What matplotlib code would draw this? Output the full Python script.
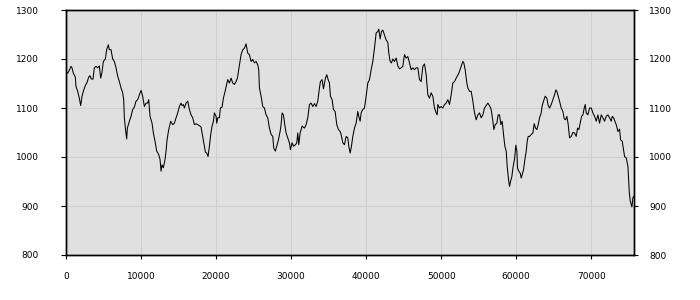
import matplotlib
matplotlib.use("Agg")
import matplotlib.pyplot as plt

x_vals = [
    0, 222, 444, 667, 800, 978, 1244, 1333, 1556, 1778, 1956, 2133, 2311, 2578, 2800, 3022, 3200, 3378, 3600, 3778,
    4000, 4222, 4444, 4622, 4800, 4978, 5244, 5422, 5644, 5778, 6000, 6222, 6444, 6667, 6889, 7111, 7333, 7556, 7689, 7778,
    7911, 8089, 8178, 8444, 8667, 8889, 9111, 9333, 9556, 9778, 10000, 10222, 10444, 10667, 10889, 11022, 11200, 11467, 11644, 11867,
    12089, 12356, 12533, 12667, 12800, 12978, 13200, 13333, 13467, 13689, 13956, 14222, 14444, 14667, 14889, 15111, 15333, 15467, 15644, 15778,
    16000, 16222, 16444, 16667, 16889, 17111, 17333, 17556, 17778, 18000, 18222, 18444, 18578, 18756, 18933, 19111, 19289, 19467, 19644, 19778,
    20000, 20089, 20222, 20444, 20578, 20800, 20978, 21156, 21333, 21556, 21778, 22000, 22222, 22444, 22667, 22844,
    23111, 23333, 23556, 23778, 24000, 24222, 24444, 24667, 24889, 25111, 25333, 25556, 25689, 25778, 26000, 26222, 26444, 26667, 26889, 27111,
    27333, 27556, 27689, 27911, 28089, 28311, 28533, 28667, 28800, 28978, 29156, 29333, 29556, 29778, 29911, 30133, 30311, 30578, 30756, 30889,
    31022, 31200, 31467, 31778, 32000, 32222, 32444, 32667, 32889, 33111, 33333, 33556, 33778, 33911, 34133, 34311, 34578, 34756, 34933, 35111,
    35244, 35467, 35644, 35867, 36089, 36311, 36533, 36667, 36889, 37111, 37333, 37556, 37689, 37867, 38044, 38222, 38444, 38667, 38889, 39022,
    39200, 39333, 39556, 39778, 40000, 40222, 40444, 40667, 40889, 41111, 41333, 41556, 41689, 41867, 42044, 42222, 42444, 42667, 42889, 43022,
    43200, 43378, 43556, 43778, 44000, 44222, 44444, 44667, 44889, 45111, 45333, 45556, 45778, 46000, 46222, 46444, 46667, 46889, 47111, 47333,
    47556, 47778, 48000, 48222, 48444, 48667, 48889, 49111, 49333, 49467, 49556, 49778, 50000, 50222, 50444, 50667, 50889, 51111, 51333, 51556,
    51778, 52000, 52356,
    52444, 52667, 52889, 53022, 53200, 53422, 53556, 53778, 54000, 54222, 54444, 54667, 54889, 55111, 55333, 55556, 55778, 56000, 56222, 56444,
    56667, 56889, 57022, 57200, 57422, 57600, 57778, 57956, 58133, 58311, 58489, 58667, 58800, 58978, 59111, 59244, 59422, 59556, 59778, 59956,
    60089, 60178, 60356, 60533, 60667, 60800, 60978, 61156, 61333, 61467, 61600, 61778, 62000, 62222, 62400, 62578, 62756, 62933, 63111, 63333,
    63467, 63644, 63867, 64089, 64267, 64444, 64667, 64889, 65111, 65289, 65422, 65600, 65778, 66000, 66222, 66400, 66578, 66756, 66933, 67111,
    67333, 67556, 67778, 68000, 68178, 68356, 68533, 68711, 68889, 69067, 69200, 69333, 69556, 69778, 70000, 70222, 70444, 70667, 70889, 71111,
    71333, 71556, 71778, 72000, 72222, 72444, 72667, 72800, 72978, 73156, 73333, 73556, 73778, 73911, 74133, 74267, 74444, 74667, 74889, 75067,
    75200, 75333, 75422, 75556, 75689,
]

y_vals = [
    1175, 1171, 1177, 1185, 1182, 1171, 1163, 1144, 1134, 1120, 1105, 1124, 1134, 1146, 1152, 1163, 1166, 1159, 1159, 1182,
    1185, 1182, 1186, 1161, 1173, 1195, 1200, 1219, 1229, 1219, 1219, 1200, 1195, 1182, 1165, 1154, 1141, 1131, 1117, 1080,
    1059, 1037, 1059, 1073, 1083, 1097, 1102, 1114, 1117, 1127, 1136, 1124, 1103, 1110, 1110, 1117, 1083, 1069, 1049, 1032,
    1012, 1005, 995, 971, 984, 978, 995, 1012, 1035, 1056, 1073, 1066, 1069, 1080, 1090, 1103, 1110, 1105, 1107, 1100,
    1110, 1114, 1097, 1086, 1080, 1066, 1068, 1066, 1064, 1061, 1042, 1022, 1010, 1008, 1001, 1022, 1046, 1063, 1073, 1090,
    1083, 1069, 1080, 1080, 1100, 1102, 1120, 1131, 1143, 1158, 1151, 1161, 1151, 1148, 1154, 1161,
    1188, 1209, 1219, 1222, 1231, 1212, 1209, 1195, 1199, 1192, 1195, 1188, 1178, 1141, 1124, 1103, 1100, 1086, 1080, 1059,
    1046, 1042, 1018, 1012, 1022, 1035, 1052, 1066, 1090, 1086, 1066, 1049, 1039, 1029, 1015, 1029, 1022, 1025, 1029, 1049,
    1025, 1049, 1063, 1059, 1066, 1080, 1107, 1110, 1103, 1109, 1103, 1114, 1141, 1154, 1158, 1139, 1161, 1168, 1158, 1151,
    1124, 1117, 1097, 1093, 1066, 1056, 1052, 1046, 1029, 1025, 1042, 1039, 1022, 1008, 1022, 1042, 1059, 1069, 1093, 1083,
    1073, 1090, 1097, 1100, 1124, 1151, 1158, 1178, 1195, 1222, 1253, 1256, 1261, 1241, 1256, 1259, 1249, 1239, 1234, 1212,
    1195, 1192, 1200, 1195, 1202, 1186, 1180, 1182, 1185, 1209, 1202, 1205, 1192, 1178, 1182, 1178, 1182, 1182, 1158, 1154,
    1185, 1190, 1168, 1127, 1120, 1131, 1124, 1100, 1090, 1086, 1107, 1100, 1103, 1100, 1107, 1110, 1117, 1107, 1127, 1151,
    1154, 1161, 1171,
    1175, 1185, 1195, 1192, 1178, 1151, 1141, 1134, 1134, 1114, 1090, 1076, 1086, 1090, 1080, 1086, 1100, 1105, 1110, 1105,
    1097, 1073, 1056, 1066, 1069, 1086, 1086, 1066, 1073, 1046, 1022, 1012, 981, 954, 940, 950, 960, 977, 996, 1024,
    1012, 977, 971, 967, 957, 964, 974, 995, 1012, 1032, 1042, 1042, 1046, 1049, 1068, 1059, 1056, 1066, 1080, 1090,
    1105, 1114, 1124, 1120, 1105, 1100, 1107, 1117, 1127, 1137, 1134, 1124, 1114, 1100, 1093, 1078, 1076, 1083, 1066, 1039,
    1042, 1050, 1049, 1042, 1059, 1056, 1069, 1083, 1086, 1100, 1107, 1090, 1086, 1100, 1100, 1090, 1083, 1073, 1086, 1069,
    1086, 1080, 1073, 1083, 1086, 1080, 1073, 1083, 1080, 1073, 1066, 1052, 1057, 1035, 1032, 1018, 1001, 998, 981, 929,
    910, 903, 898, 917, 920,
]

x_ticks = [0, 10000, 20000, 30000, 40000, 50000, 60000, 70000]
y_ticks = [800, 900, 1000, 1100, 1200, 1300]

fig = plt.figure(figsize=(7, 3), dpi=100)
ax = fig.add_axes([66 / 700, 1 - 255 / 300, (634 - 66) / 700, (255 - 10) / 300])
ax.set_facecolor("#e0e0e0")
ax.plot(x_vals, y_vals, color="black", linewidth=0.75)
ax.set_xlim(0, 75700)
ax.set_ylim(800, 1300)
ax.set_xticks(x_ticks)
ax.set_yticks(y_ticks)
ax.grid(True, color="#cfcfcf", linewidth=0.8)
ax.set_axisbelow(True)
for s in ax.spines.values():
    s.set_color("black")
    s.set_linewidth(1.0)

ax.tick_params(axis="x", direction="out", length=3, width=0.8, pad=9, labelsize=6.5, colors="black")
ax.tick_params(axis="y", left=False, right=False, labelleft=True, labelright=False,
               pad=16, labelsize=6.5, colors="black")

ax2 = ax.twinx()
ax2.set_ylim(800, 1300)
ax2.set_yticks(y_ticks)
ax2.tick_params(axis="y", left=False, right=True, labelleft=False, labelright=True,
                direction="out", length=3, width=0.8, pad=8, labelsize=6.5, colors="black")
for s in ax2.spines.values():
    s.set_color("black")
    s.set_linewidth(1.0)

fig.savefig("out.png", dpi=100, facecolor="white")
